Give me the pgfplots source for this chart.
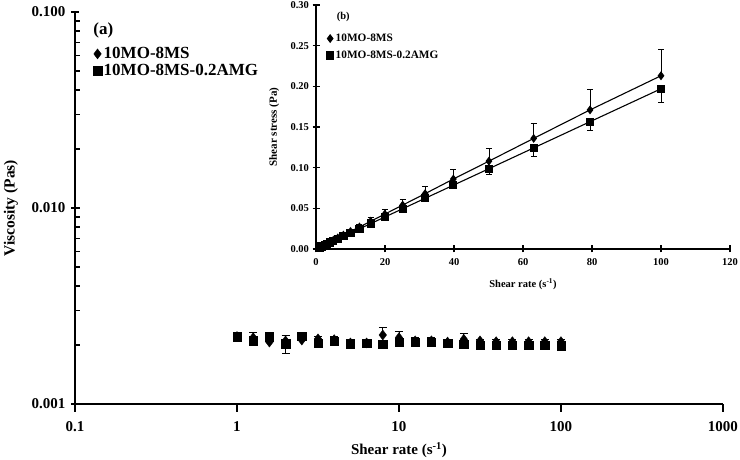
\documentclass[border=0pt]{standalone}
\usepackage{fontspec}
\setmainfont{Liberation Serif}
\usepackage{pgfplots}
\pgfplotsset{compat=1.18}
\begin{document}
\begin{tikzpicture}[x=1pt,y=1pt]
\useasboundingbox (-75pt,-56pt) rectangle (665pt,404pt);
\begin{axis}[
  at={(0pt,0pt)}, anchor=south west, scale only axis,
  width=648pt, height=392pt,
  xmode=log, ymode=log, xmin=0.1, xmax=1000, ymin=0.001, ymax=0.1,
  axis x line*=bottom, axis y line*=left,
  axis line style={line width=1.2pt, -},
  xtick={0.1,1,10,100,1000}, xticklabels={0.1,1,10,100,1000},
  ytick={0.001,0.01,0.1}, yticklabels={0.001,0.010,0.100},
  /pgf/number format/assume math mode=true,
  tick align=center, major tick length=8pt, minor tick length=5pt,
  tick style={line width=1.2pt, black},
  minor x tick style={draw=none},
  major x tick style={yshift=-4pt},
  minor y tick style={xshift=2.5pt},
  ticklabel style={font=\bfseries\fontsize{15}{17}\selectfont},
  xticklabel style={yshift=-10pt},
  yticklabel style={xshift=-2pt},
  every axis x label/.style={at={(axis description cs:0.5,-0.117)}, anchor=center},
  every axis y label/.style={at={(axis description cs:-0.099,0.5)}, rotate=90, anchor=center},
  xlabel style={font=\bfseries\fontsize{15}{17}\selectfont},
  ylabel style={font=\bfseries\fontsize{15.5}{17}\selectfont},
  xlabel={Shear rate (s\textsuperscript{-1})},
  ylabel={Viscosity (Pas)},
  legend style={at={(axis description cs:0.028,0.915)}, anchor=north west, draw=none, fill=none,
    font=\bfseries\fontsize{17}{19}\selectfont, row sep=0pt, inner sep=0pt},
  legend cell align=left,
  legend image code/.code={\draw[#1, only marks] plot coordinates {(0.15cm,0cm)};},
]
\addplot[only marks, mark=diamond*, black, mark size=5pt,
  error bars/.cd, y dir=plus, y explicit, error bar style={line width=0.8pt, black}, error mark options={black, mark size=4pt, rotate=90}]
coordinates {
(1,0.00221) +- (0,0.00005)
(1.259,0.00218) +- (0,0.00015)
(1.585,0.00207) +- (0,0.00005)
(1.995,0.00210) +- (0,0.00015)
(2.512,0.00212) +- (0,0.00005)
(3.162,0.00215) +- (0,0.00006)
(3.981,0.00213) +- (0,0.0001)
(5.012,0.00205) +- (0,0.00004)
(6.310,0.00205) +- (0,0.00004)
(7.943,0.00225) +- (0,0.00022)
(10,0.00218) +- (0,0.00018)
(12.59,0.00210) +- (0,0.00008)
(15.85,0.00210) +- (0,0.00008)
(19.95,0.00207) +- (0,0.00005)
(25.12,0.00214) +- (0,0.00016)
(31.62,0.00210) +- (0,0.00005)
(39.81,0.00208) +- (0,0.00005)
(50.12,0.00208) +- (0,0.00005)
(63.10,0.00208) +- (0,0.00005)
(79.43,0.00208) +- (0,0.00005)
(100,0.00208) +- (0,0.00005)
};
\addlegendentry{10MO-8MS}
\addplot[only marks, mark=square*, black, mark size=4.2pt,
  error bars/.cd, y dir=minus, y explicit, error bar style={line width=0.8pt, black}, error mark options={black, mark size=4pt, rotate=90}]
coordinates {
(1,0.00220) +- (0,0.00003)
(1.259,0.00210) +- (0,0.00005)
(1.585,0.00220) +- (0,0.00008)
(1.995,0.00203) +- (0,0.00021)
(2.512,0.00222) +- (0,0.00005)
(3.162,0.00205) +- (0,0.00005)
(3.981,0.00209) +- (0,0.00005)
(5.012,0.00203) +- (0,0.00003)
(6.310,0.00204) +- (0,0.00003)
(7.943,0.00202) +- (0,0.00003)
(10,0.00207) +- (0,0.00005)
(12.59,0.00206) +- (0,0.00005)
(15.85,0.00207) +- (0,0.00005)
(19.95,0.00205) +- (0,0.00003)
(25.12,0.00202) +- (0,0.00005)
(31.62,0.00200) +- (0,0.00003)
(39.81,0.00200) +- (0,0.00003)
(50.12,0.00200) +- (0,0.00003)
(63.10,0.00199) +- (0,0.00003)
(79.43,0.00199) +- (0,0.00003)
(100,0.00198) +- (0,0.00003)
};
\addlegendentry{10MO-8MS-0.2AMG}
\node[font=\bfseries\fontsize{17}{19}\selectfont, anchor=west, inner sep=0pt] at (axis description cs:0.028,0.954) {(a)};
\end{axis}

\begin{axis}[
  at={(241pt,155pt)}, anchor=south west, scale only axis,
  width=414pt, height=244pt,
  xmin=0, xmax=120, ymin=0, ymax=0.30,
  axis x line*=bottom, axis y line*=left,
  axis line style={line width=1.2pt, -},
  xtick={0,20,40,60,80,100,120},
  ytick={0,0.05,0.1,0.15,0.2,0.25,0.3},
  scaled y ticks=false,
  yticklabel style={/pgf/number format/.cd, fixed, fixed zerofill, precision=2},
  /pgf/number format/assume math mode=true,
  tick align=center, major tick length=7pt,
  tick style={line width=1.1pt, black},
  ticklabel style={font=\bfseries\fontsize{10.5}{12}\selectfont},
  xticklabel style={yshift=-2pt},
  every axis x label/.style={at={(axis description cs:0.5,-0.143)}, anchor=center},
  every axis y label/.style={at={(axis description cs:-0.101,0.5)}, rotate=90, anchor=center},
  xlabel style={font=\bfseries\fontsize{10.5}{12}\selectfont},
  ylabel style={font=\bfseries\fontsize{11}{12}\selectfont},
  xlabel={Shear rate (s\textsuperscript{-1})},
  ylabel={Shear stress (Pa)},
  legend style={at={(axis description cs:0.025,0.89)}, anchor=north west, draw=none, fill=none,
    font=\bfseries\fontsize{11.3}{13}\selectfont, row sep=4pt, inner sep=0pt},
  legend cell align=left,
  legend image code/.code={\draw[#1, only marks] plot coordinates {(0.1cm,0cm)};},
]
\addplot[black, line width=1.1pt, mark=diamond*, mark size=3.6pt,
  error bars/.cd, y dir=plus, y explicit, error bar style={line width=0.6pt, black}, error mark options={black, mark size=3pt, rotate=90}]
coordinates {
(1,0.0022) +- (0,0.0002)
(1.259,0.0027) +- (0,0.0003)
(1.585,0.0034) +- (0,0.0003)
(1.995,0.0043) +- (0,0.0004)
(2.512,0.0054) +- (0,0.0005)
(3.162,0.0068) +- (0,0.0006)
(3.981,0.0086) +- (0,0.0008)
(5.012,0.0108) +- (0,0.0010)
(6.310,0.0136) +- (0,0.0013)
(7.943,0.0171) +- (0,0.0017)
(10,0.0215) +- (0,0.003)
(12.59,0.0271) +- (0,0.004)
(15.85,0.0341) +- (0,0.005)
(19.95,0.0429) +- (0,0.006)
(25.12,0.0540) +- (0,0.0075)
(31.62,0.0680) +- (0,0.0095)
(39.81,0.0860) +- (0,0.012)
(50.12,0.1080) +- (0,0.016)
(63.10,0.1360) +- (0,0.019)
(79.43,0.1710) +- (0,0.026)
(100,0.2130) +- (0,0.033)
};
\addlegendentry{10MO-8MS}
\addplot[black, line width=1.1pt, mark=square*, mark size=3.6pt,
  error bars/.cd, y dir=minus, y explicit, error bar style={line width=0.6pt, black}, error mark options={black, mark size=3pt, rotate=90}]
coordinates {
(1,0.00197) +- (0,0.0001)
(1.259,0.00248) +- (0,0.0001)
(1.585,0.00312) +- (0,0.0002)
(1.995,0.00393) +- (0,0.0002)
(2.512,0.00495) +- (0,0.0003)
(3.162,0.00623) +- (0,0.0003)
(3.981,0.00784) +- (0,0.0004)
(5.012,0.00987) +- (0,0.0005)
(6.310,0.01243) +- (0,0.0006)
(7.943,0.01565) +- (0,0.0008)
(10,0.0197) +- (0,0.001)
(12.59,0.0248) +- (0,0.0012)
(15.85,0.0312) +- (0,0.0015)
(19.95,0.0393) +- (0,0.002)
(25.12,0.0495) +- (0,0.0025)
(31.62,0.0623) +- (0,0.003)
(39.81,0.0784) +- (0,0.004)
(50.12,0.0987) +- (0,0.007)
(63.10,0.1243) +- (0,0.010)
(79.43,0.1565) +- (0,0.011)
(100,0.1970) +- (0,0.017)
};
\addlegendentry{10MO-8MS-0.2AMG}
\node[font=\bfseries\fontsize{10.5}{12}\selectfont, anchor=west, inner sep=0pt] at (axis description cs:0.05,0.95) {(b)};
\end{axis}
\end{tikzpicture}
\end{document}
